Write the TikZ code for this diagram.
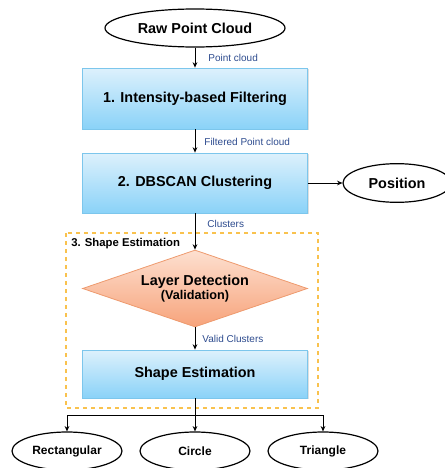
\documentclass[tikz,border=0pt]{standalone}
\usepackage{fontspec}
\setmainfont{Liberation Sans}
\usetikzlibrary{shapes.geometric,arrows.meta,shadows}

\definecolor{boxtop}{HTML}{DDF1FC}
\definecolor{boxbot}{HTML}{8AD2F8}
\definecolor{boxline}{HTML}{7CC6EC}
\definecolor{dtop}{HTML}{FDE0D0}
\definecolor{dbot}{HTML}{F7A37B}
\definecolor{dline}{HTML}{EE9A6E}
\definecolor{grpline}{HTML}{F9C24E}
\definecolor{lblblue}{HTML}{2D4B8E}

\begin{document}
\begin{tikzpicture}[x=0.75pt,y=-0.75pt,
    procbox/.style={draw=boxline, line width=0.6pt, top color=boxtop, bottom color=boxbot,
      minimum width=168.75pt, font=\bfseries\fontsize{10.8}{13}\selectfont,
      drop shadow={opacity=0.25, shadow xshift=1pt, shadow yshift=-1pt}},
    io/.style={ellipse, draw, line width=0.9pt, fill=white, inner sep=0pt,
      minimum height=28.5pt},
    flow/.style={-{Stealth[length=4pt,width=3.5pt]}, line width=0.6pt},
    lbl/.style={text=lblblue, font=\fontsize{7.5}{9}\selectfont, anchor=west, inner sep=0pt}]
  \useasboundingbox (0,0) rectangle (444,468);

  % group frame for step 3
  \draw[grpline, dashed, line width=0.8pt] (66,233) rectangle (318,408);
  \node[anchor=west, inner sep=0pt, font=\bfseries\fontsize{8.5}{10}\selectfont] (grptitle) at (71,244) {3. Shape Estimation};

  % pipeline
  \node[io, minimum width=135pt, font=\bfseries\fontsize{10.8}{13}\selectfont] (raw) at (195,28) {Raw Point Cloud};
  \node[procbox, minimum height=45.75pt] (filt) at (195,98.5) {1. Intensity-based Filtering};
  \node[procbox, minimum height=45pt] (dbscan) at (195,183) {2. DBSCAN Clustering};
  \node[io, minimum width=81pt, minimum height=29pt, font=\bfseries\fontsize{10.8}{13}\selectfont] (pos) at (397,183) {Position};
  \node[diamond, draw=dline, line width=0.6pt, top color=dtop, bottom color=dbot, shape aspect=2.9,
        minimum width=168.75pt, minimum height=57.75pt, inner sep=0pt, align=center] (layer) at (195,288.5)
    {{\bfseries\fontsize{10.8}{13}\selectfont Layer Detection}\\[-1pt]{\bfseries\fontsize{9.5}{11}\selectfont (Validation)}};
  \node[procbox, minimum height=36pt] (shape) at (195,374) {Shape Estimation};

  % outputs
  \node[io, minimum width=82.5pt, font=\bfseries\fontsize{9}{11}\selectfont] (rect) at (67,451) {Rectangular};
  \node[io, minimum width=82.5pt, font=\bfseries\fontsize{9}{11}\selectfont] (circ) at (195,451) {Circle};
  \node[io, minimum width=82.5pt, font=\bfseries\fontsize{9}{11}\selectfont] (tri) at (323,451) {Triangle};

  \draw[flow] (raw) -- node[lbl, xshift=9.75pt] {Point cloud} (filt);
  \draw[flow] (filt) -- node[lbl, xshift=6.75pt, pos=0.55] {Filtered Point cloud} (dbscan);
  \draw[flow] (dbscan) -- (pos);
  \draw[flow] (dbscan) -- node[lbl, xshift=9pt, pos=0.3] {Clusters} (layer);
  \draw[flow] (layer) -- node[lbl, xshift=5.25pt] {Valid Clusters} (shape);

  % fan out to the three shapes
  \coordinate (fork) at (195,415);
  \draw[line width=0.6pt] (rect.north |- fork) -- (tri.north |- fork);
  \foreach \n in {rect,circ,tri}
    \draw[flow] (\n.north |- fork) -- (\n.north);
  \draw[line width=0.6pt] (shape) -- (fork);
\end{tikzpicture}
\end{document}
